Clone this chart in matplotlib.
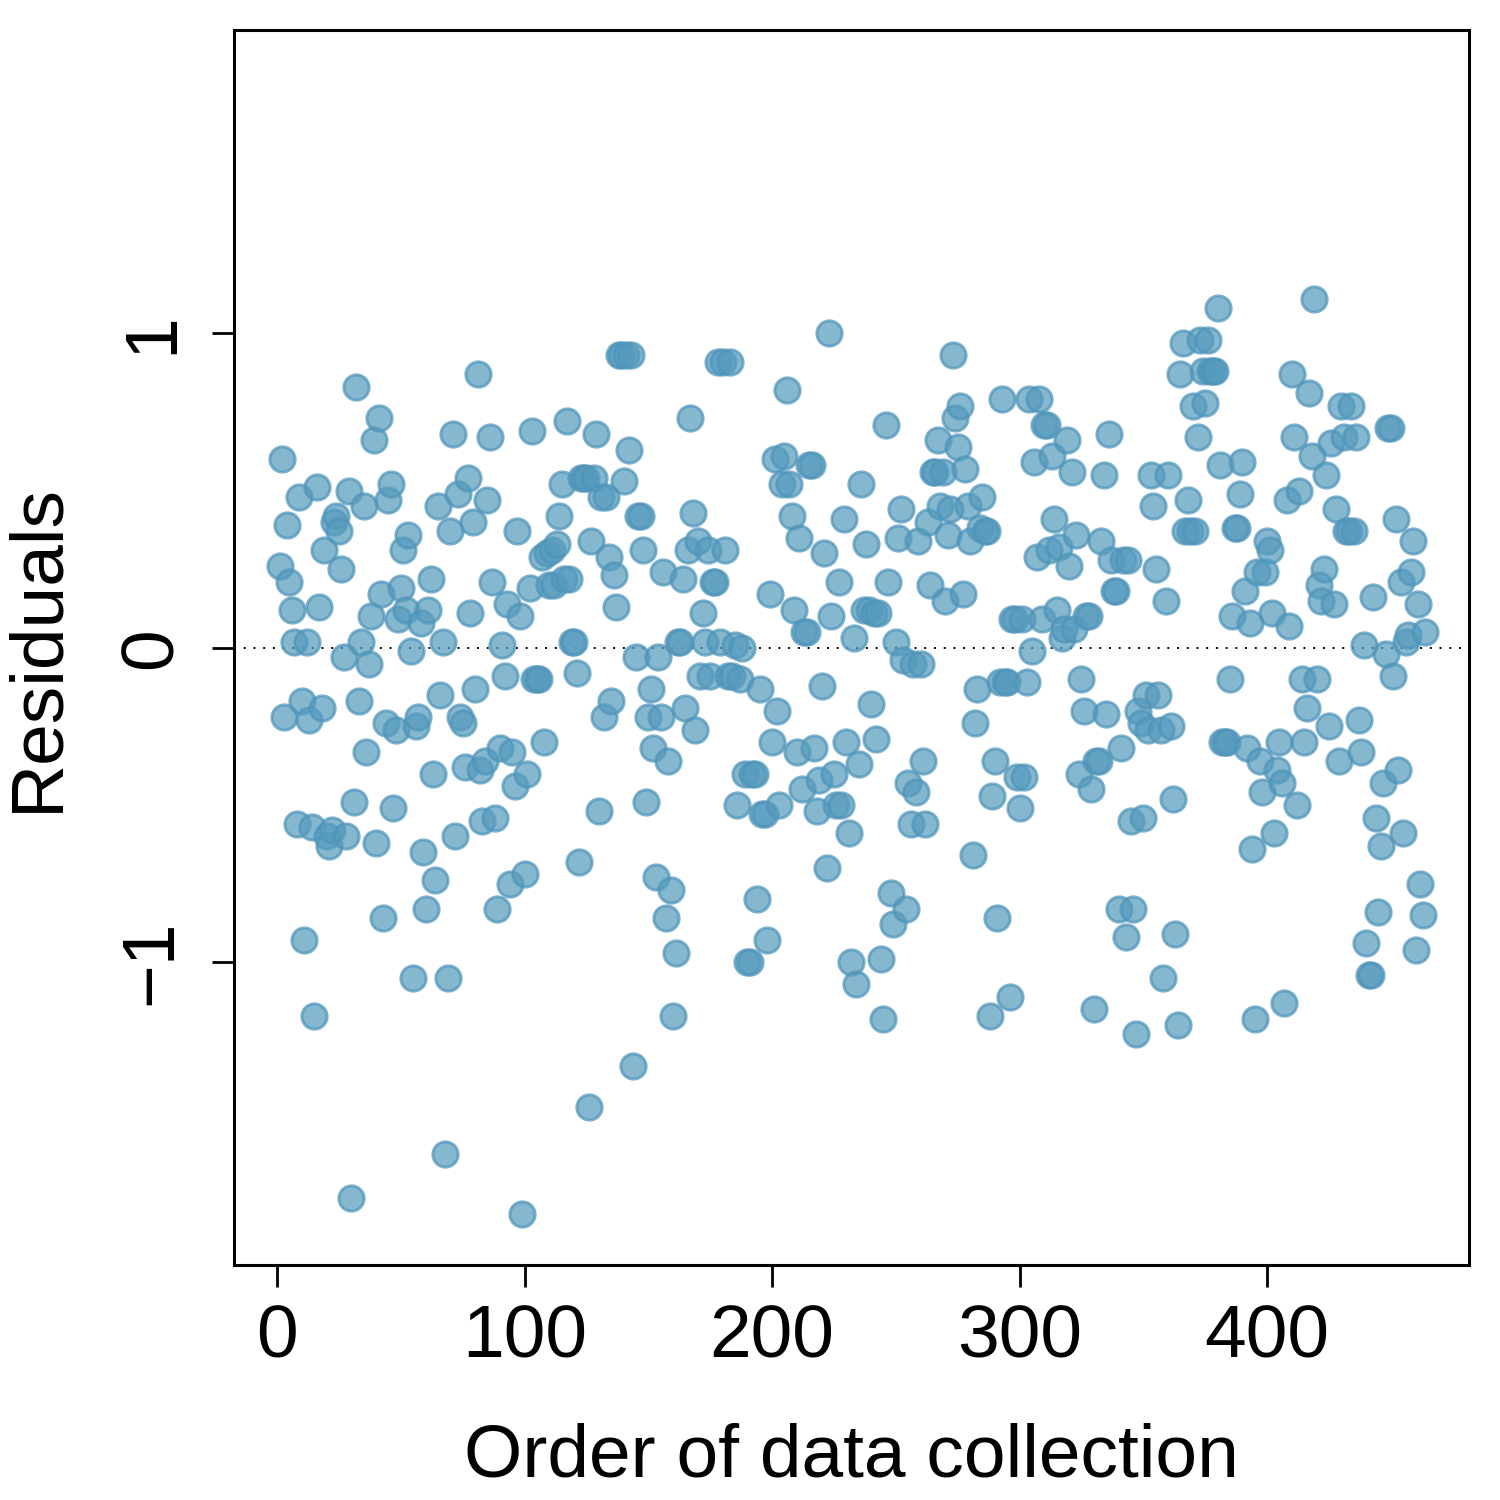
import numpy as np
import matplotlib
matplotlib.use('Agg')
import matplotlib.pyplot as plt

plt.rcParams['font.family'] = ['Liberation Sans', 'DejaVu Sans']

# residuals in order of data collection
residuals = [
    0.26, 0.60, -0.22, 0.39, 0.21, 0.12, 0.02, -0.56, 0.48, -0.17,
    -0.93, 0.02, -0.23, -0.57, -1.17, 0.51, 0.13, -0.19, 0.31, -0.60,
    -0.63, -0.58, 0.40, 0.42, 0.37, 0.25, -0.03, -0.60, 0.50, -1.75,
    -0.49, 0.83, -0.17, 0.02, 0.45, -0.33, -0.05, 0.10, 0.66, -0.62,
    0.73, 0.17, -0.86, -0.24, 0.47, 0.52, -0.51, -0.26, 0.09, 0.19,
    0.31, 0.12, 0.36, -0.01, -1.05, -0.25, -0.22, 0.08, -0.65, -0.83,
    0.12, 0.22, -0.40, -0.74, 0.45, -0.15, 0.02, -1.61, -1.05, 0.37,
    0.68, -0.60, 0.49, -0.22, -0.24, -0.38, 0.54, 0.11, 0.40, -0.13,
    0.87, -0.39, -0.55, -0.36, 0.47, 0.67, 0.21, -0.54, -0.83, -0.32,
    0.01, -0.09, 0.14, -0.75, -0.33, -0.44, 0.37, 0.10, -1.80, -0.72,
    -0.40, 0.19, 0.69, -0.10, -0.10, -0.10, 0.29, -0.30, 0.30, 0.20,
    0.31, 0.20, 0.33, 0.42, 0.52, 0.22, 0.72, 0.22, 0.02, 0.02,
    -0.08, -0.68, 0.54, 0.54, 0.54, -1.46, 0.34, 0.54, 0.68, -0.52,
    0.48, -0.22, 0.48, 0.29, -0.17, 0.23, 0.13, 0.93, 0.93, 0.53,
    0.93, 0.63, 0.93, -1.33, -0.03, 0.42, 0.42, 0.31, -0.49, -0.22,
    -0.13, -0.32, -0.73, -0.03, -0.22, 0.24, -0.86, -0.36, -0.77, -1.17,
    -0.97, 0.02, 0.02, 0.22, -0.19, 0.31, 0.73, 0.43, -0.26, 0.34,
    -0.09, 0.11, 0.02, 0.31, -0.09, 0.21, 0.21, 0.91, 0.02, 0.91,
    0.31, -0.09, 0.91, -0.09, 0.01, -0.50, -0.10, 0.00, -0.40, -1.00,
    -1.00, -0.40, -0.40, -0.80, -0.13, -0.53, -0.53, -0.93, 0.17, -0.30,
    0.60, -0.20, -0.50, 0.52, 0.61, 0.82, 0.52, 0.42, 0.12, -0.33,
    0.35, -0.45, 0.05, 0.05, 0.58, 0.58, -0.32, -0.52, -0.42, -0.12,
    0.30, -0.70, 1.00, 0.10, -0.40, -0.50, 0.21, -0.50, 0.41, -0.30,
    -0.59, -1.00, 0.03, -1.07, -0.37, 0.52, 0.12, 0.33, 0.12, -0.18,
    0.11, -0.29, 0.11, -0.99, -1.18, 0.71, 0.21, -0.78, -0.88, 0.02,
    0.35, 0.44, -0.04, -0.83, -0.43, -0.56, -0.05, -0.46, 0.34, -0.05,
    -0.36, -0.56, 0.40, 0.20, 0.56, 0.56, 0.66, 0.45, 0.56, 0.15,
    0.36, 0.44, 0.93, 0.73, 0.64, 0.77, 0.17, 0.57, 0.45, 0.34,
    -0.66, -0.24, -0.13, 0.38, 0.48, 0.37, 0.37, -1.17, -0.47, -0.36,
    -0.86, -0.11, 0.79, -0.11, -0.11, -1.11, 0.09, 0.09, -0.41, -0.51,
    0.09, -0.41, -0.11, 0.79, -0.01, 0.59, 0.29, 0.79, 0.09, 0.71,
    0.71, 0.31, 0.61, 0.41, 0.12, 0.32, 0.03, 0.06, 0.66, 0.26,
    0.56, 0.06, 0.36, -0.40, -0.10, -0.20, 0.10, 0.10, -0.45, -1.15,
    -0.36, -0.36, 0.34, 0.55, -0.21, 0.68, 0.28, 0.18, 0.18, -0.83,
    -0.32, 0.28, -0.92, 0.28, -0.55, -0.83, -1.23, -0.20, -0.24, -0.54,
    -0.15, -0.26, 0.55, 0.45, 0.25, -0.15, -0.26, -1.05, 0.15, 0.55,
    -0.25, -0.48, -0.91, -1.20, 0.87, 0.97, 0.37, 0.47, 0.37, 0.77,
    0.37, 0.67, 0.98, 0.88, 0.78, 0.98, 0.88, 0.88, 0.88, 1.08,
    0.58, -0.30, -0.30, -0.30, -0.10, 0.10, 0.38, 0.38, 0.49, 0.59,
    0.18, -0.32, 0.08, -0.64, -1.18, 0.24, -0.36, -0.46, 0.24, 0.34,
    0.31, 0.11, -0.59, -0.39, -0.30, -0.43, -1.13, 0.47, 0.07, 0.87,
    0.67, -0.50, 0.50, -0.10, -0.30, -0.19, 0.81, 0.61, 1.11, -0.10,
    0.20, 0.15, 0.25, 0.55, -0.25, 0.65, 0.14, 0.44, -0.36, 0.77,
    0.67, 0.37, 0.37, 0.77, 0.37, 0.67, -0.23, -0.33, 0.01, -0.94,
    -1.04, -1.04, 0.16, -0.54, -0.84, -0.63, -0.43, -0.02, 0.70, 0.70,
    -0.09, 0.41, -0.39, 0.21, -0.59, 0.02, 0.04, 0.24, 0.34, -0.96,
    0.14, -0.75, -0.85, 0.05,
]
order = np.arange(1, len(residuals) + 1)

x_ticks = [0, 100, 200, 300, 400]
y_ticks = [-1, 0, 1]
y_tick_labels = ['\u22121', '0', '1']

fig = plt.figure(figsize=(15, 15), dpi=100)
ax = fig.add_axes([0.156, 0.1567, 0.823, 0.8233])

ax.scatter(order, residuals, s=330, facecolor='#569BBD', alpha=0.72,
           edgecolor='#4F95BA', linewidth=2.2, zorder=3)
ax.axhline(0, color='black', linestyle=(0, (1, 4)), linewidth=1.4, zorder=2)

ax.set_xlim(-17.4, 481.4)
ax.set_ylim(-1.963, 1.965)

ax.set_xticks(x_ticks)
ax.set_xticklabels([str(t) for t in x_ticks])
ax.set_yticks(y_ticks)
ax.set_yticklabels(y_tick_labels, rotation=90, va='center')

ax.tick_params(axis='both', labelsize=54, length=16, width=2, direction='out')
ax.tick_params(axis='x', pad=12)
ax.tick_params(axis='y', pad=18)

for sp in ax.spines.values():
    sp.set_linewidth(2.2)

ax.set_xlabel('Order of data collection', fontsize=54, labelpad=36)
ax.set_ylabel('Residuals', fontsize=54, labelpad=33)

fig.savefig('out.png', dpi=100)
